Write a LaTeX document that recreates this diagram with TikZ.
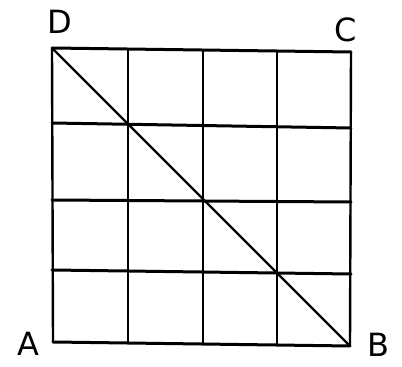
\documentclass[tikz,border=0pt]{standalone}
\usepackage{fontspec}
\setmainfont{DejaVu Sans}
\begin{document}
\begin{tikzpicture}[x=1pt,y=1pt,
  hline/.style={line width=3pt,line cap=round},
  vline/.style={line width=2.4pt,line cap=round},
  diag/.style={line width=2.3pt,line cap=round},
  lbl/.style={font=\fontsize{32}{32}\selectfont,inner sep=0pt}]
\useasboundingbox (0,0) rectangle (402,367);
% corners
\coordinate (cD) at (52,319);
\coordinate (cC) at (351,315);
\coordinate (cA) at (53,25);
\coordinate (cB) at (350,21);
% vertical lines
\draw[vline] (52,319) -- (53,25);
\draw[vline] (128,318) -- (128,24);
\draw[vline] (203,317) -- (203,23);
\draw[vline] (277,316) -- (277,22);
\draw[vline] (351,315) -- (350,21);
% horizontal lines
\draw[hline] (52,319) -- (351,315);
\draw[hline] (52,244) -- (351,239);
\draw[hline] (52,167) -- (351,165);
\draw[hline] (52,97) -- (351,93);
\draw[hline] (53,25) -- (350,21);
% diagonal
\draw[diag] (cD) -- (cB);
% labels
\node[lbl] (D) at (60,345) {D};
\node[lbl] (C) at (346,337) {C};
\node[lbl] (A) at (28,23) {A};
\node[lbl] (B) at (378,22) {B};
\end{tikzpicture}
\end{document}
